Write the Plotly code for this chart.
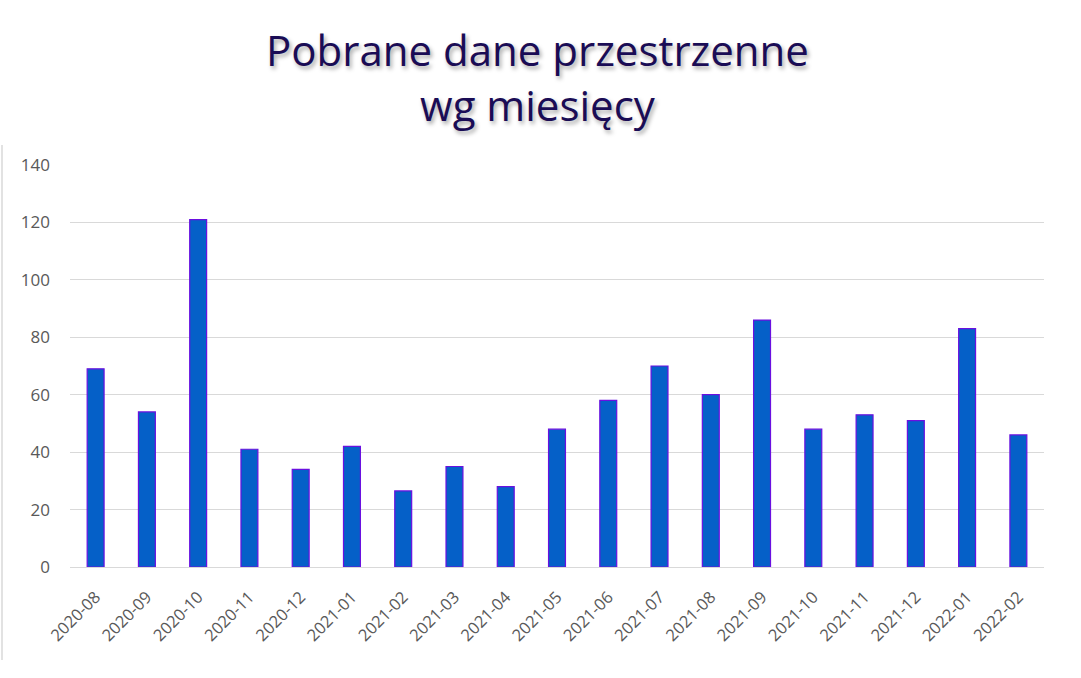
import plotly.graph_objects as go

months = ["2020-08", "2020-09", "2020-10", "2020-11", "2020-12", "2021-01", "2021-02",
          "2021-03", "2021-04", "2021-05", "2021-06", "2021-07", "2021-08", "2021-09",
          "2021-10", "2021-11", "2021-12", "2022-01", "2022-02"]
downloads = [69, 54, 121, 41, 34, 42, 26.5, 35, 28, 48, 58, 70, 60, 86, 48, 53, 51, 83, 46]

W, H = 1081, 678
L, R, T, B = 70, 37, 165, 111
PH = H - T - B
PW = W - L - R

fig = go.Figure(go.Bar(
    x=months, y=downloads,
    width=0.33,
    marker=dict(color="#0560C8", line=dict(color="#6A10E0", width=1.2)),
))

fig.update_layout(
    width=W, height=H,
    margin=dict(l=L, r=R, t=T, b=B),
    paper_bgcolor="white", plot_bgcolor="white",
    showlegend=False,
    font=dict(family="Open Sans", color="#595959"),
    xaxis=dict(
        type="category",
        showline=True, linecolor="#d9d9d9", linewidth=1,
        tickangle=-45, tickfont=dict(size=16.5, color="#595959"),
        ticks="", showgrid=False, ticklabelstandoff=13,
    ),
    yaxis=dict(
        range=[0, 140], dtick=20, showgrid=True, gridcolor="#d9d9d9", gridwidth=1,
        zeroline=False, showline=False, ticks="",
        tickfont=dict(size=17, color="#595959"), ticklabelstandoff=19,
    ),
    annotations=[dict(
        text="Pobrane dane przestrzenne<br>wg miesięcy",
        xref="paper", yref="paper",
        x=(537 - L) / PW, y=(567 - 77) / PH,
        xanchor="center", yanchor="middle", showarrow=False,
        font=dict(family="Open Sans", size=42, color="#1A0C55",
                  shadow="2px 3px 4px rgba(0,0,0,0.35)"),
    )],
    shapes=[dict(type="line", xref="paper", yref="paper",
                 x0=(2 - L) / PW, x1=(2 - L) / PW,
                 y0=-(660 - 567) / PH, y1=(567 - 145) / PH,
                 line=dict(color="#d9d9d9", width=1.5))],
)

fig.write_html("out.html", config={"displayModeBar": False},
               post_script="document.body.style.margin='0';document.body.style.padding='0';")
